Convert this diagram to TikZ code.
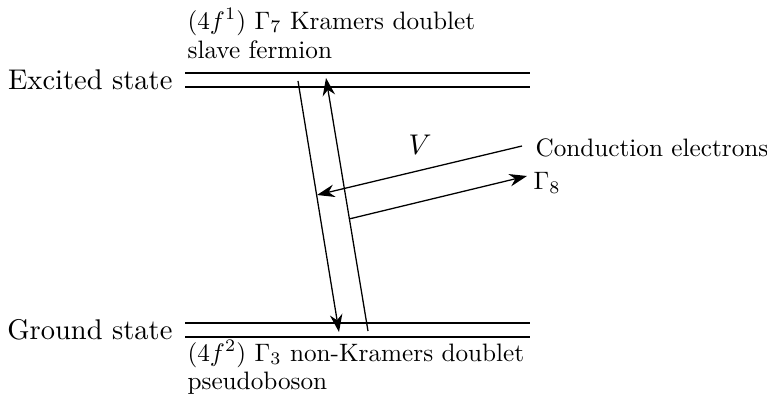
\documentclass[tikz,border=0pt]{standalone}
\usepackage{graphicx}
\usetikzlibrary{arrows.meta}
\newcommand{\lbltext}[1]{\scalebox{0.885}{#1}}
\tikzset{
  level/.style={line width=0.75pt},
  trans/.style={line width=0.45pt,-{Stealth[length=6.2pt,width=4.4pt]}},
  lbl/.style={anchor=west,inner sep=0pt}
}
\begin{document}
\begin{tikzpicture}[x=0.351pt,y=-0.351pt]
    \useasboundingbox (0,0) rectangle (767,413);
    % energy levels
    \draw[level] (185,73) -- (530,73);
    \draw[level] (185,87) -- (530,87);
    \draw[level] (185,323) -- (530,323);
    \draw[level] (185,337) -- (530,337);
    \node[anchor=east,inner sep=0pt] (exc) at (173,80) {Excited state};
    \node[anchor=east,inner sep=0pt] (gnd) at (173,330) {Ground state};
    \node[lbl] (f1) at (187,22) {\lbltext{$(4f^1)$ $\Gamma_7$ Kramers doublet}};
    \node[lbl] (sf) at (187,50) {\lbltext{slave fermion}};
    \node[lbl] (f2) at (187,354) {\lbltext{$(4f^2)$ $\Gamma_3$ non-Kramers doublet}};
    \node[lbl] (pb) at (187,383) {\lbltext{pseudoboson}};
    % transitions
    \coordinate (a1) at (298,81);
    \coordinate (a2) at (339,332);
    \coordinate (b1) at (368,331);
    \coordinate (b2) at (326,78);
    \draw[trans] (a1) -- (a2);
    \draw[trans] (b1) -- (b2);
    % conduction electrons
    \node[lbl] (ce) at (535,148) {\lbltext{Conduction electrons}};
    \node[lbl] (g8) at (533,183) {\lbltext{$\Gamma_8$}};
    \node (v) at (420,145) {$V$};
    \coordinate (c1) at (522,146);
    \coordinate (c2) at (317,195);
    \coordinate (d1) at (349,219);
    \coordinate (d2) at (527,176);
    \draw[trans] (c1) -- (c2);
    \draw[trans] (d1) -- (d2);
\end{tikzpicture}
\end{document}
